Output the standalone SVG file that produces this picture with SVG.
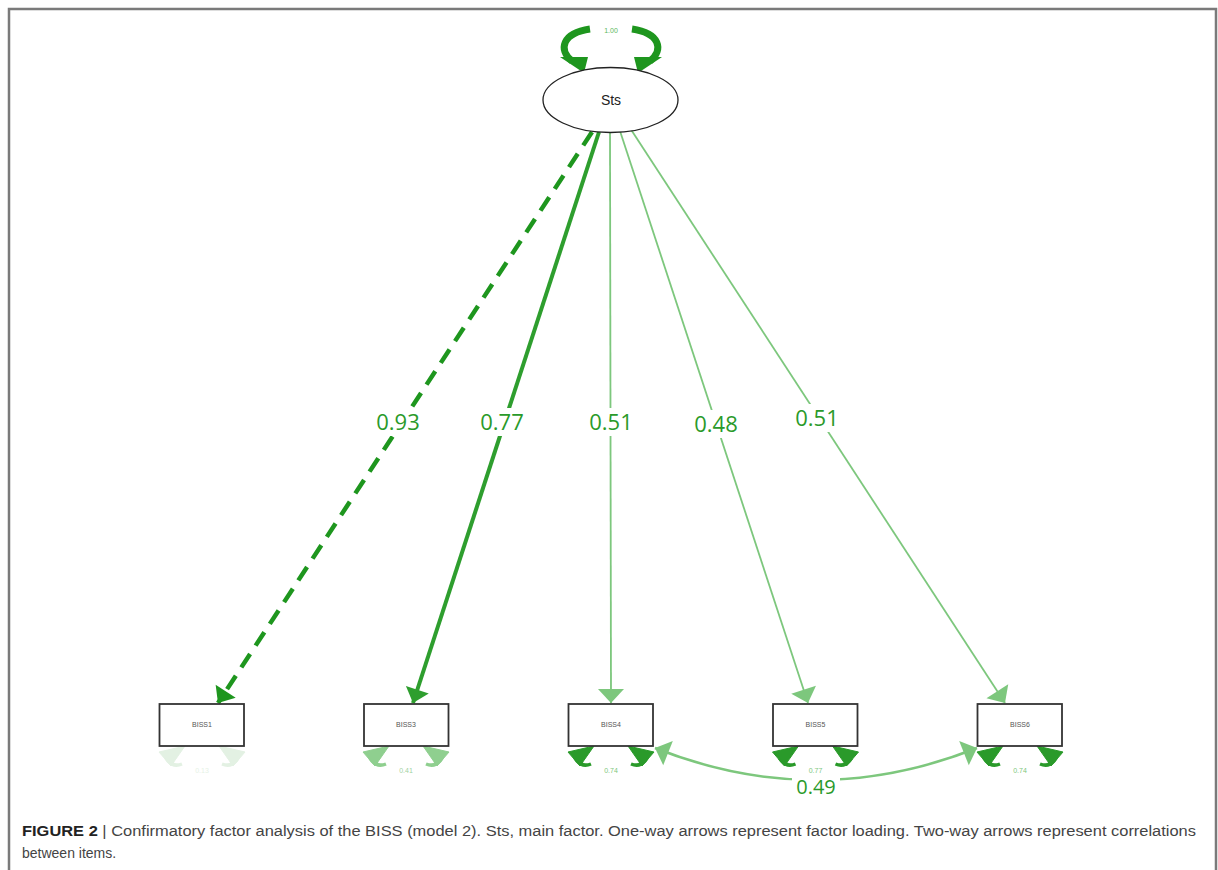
<svg xmlns="http://www.w3.org/2000/svg" width="1218" height="870" viewBox="0 0 1218 870">
<defs>
<style>
.frame{fill:none;stroke:#7a7a7a;stroke-width:2.5}
.box{fill:#fff;stroke:#333;stroke-width:1.8}
.boxt{font-family:"Liberation Sans",Arial,sans-serif;font-size:7px;fill:#555;text-anchor:middle}
.lbl{font-family:"Open Sans","DejaVu Sans",sans-serif;font-size:22px;fill:#2a9a2a;text-anchor:middle}
.bg{fill:#fff}
.small{font-family:"Liberation Sans",Arial,sans-serif;font-size:7px;text-anchor:middle}
.cap{font-family:"Liberation Sans",Arial,sans-serif;font-size:14px;fill:#444}
</style>
<marker id="ahD" viewBox="-15 -14 16 28" refX="0" refY="0" markerWidth="16" markerHeight="28" markerUnits="userSpaceOnUse" orient="auto"><path d="M0,0 L-14,-12 L-14,12 Z" fill="#1e961e"/></marker>
<marker id="ahM" viewBox="-15 -14 16 28" refX="0" refY="0" markerWidth="16" markerHeight="28" markerUnits="userSpaceOnUse" orient="auto"><path d="M0,0 L-14,-12 L-14,12 Z" fill="#2e9e2e"/></marker>
<marker id="ahL" viewBox="-15 -14 16 28" refX="0" refY="0" markerWidth="16" markerHeight="28" markerUnits="userSpaceOnUse" orient="auto-start-reverse"><path d="M0,0 L-14,-13 L-14,13 Z" fill="#7dc77d"/></marker>
<g id="res">
<path d="M-36,758 Q-30,768 -20,764" fill="none" stroke-width="3.5"/>
<path d="M-17,746 L-43,752 L-31,766 Z"/>
<path d="M36,758 Q30,768 20,764" fill="none" stroke-width="3.5"/>
<path d="M17,746 L43,752 L31,766 Z"/>
</g>
</defs>
<rect width="1218" height="870" fill="#fff"/>
<path class="frame" d="M9,870 V9 H1216 V870"/>

<g id="connectors">
<line x1="592" y1="132" x2="218" y2="703" stroke="#1e961e" stroke-width="4.5" stroke-dasharray="16,10" marker-end="url(#ahD)"/>
<line x1="599" y1="132" x2="413" y2="703" stroke="#2e9e2e" stroke-width="4" marker-end="url(#ahM)"/>
<line x1="610" y1="132" x2="611" y2="703" stroke="#7dc77d" stroke-width="1.8" marker-end="url(#ahL)"/>
<line x1="620" y1="131" x2="808" y2="703" stroke="#7dc77d" stroke-width="1.8" marker-end="url(#ahL)"/>
<line x1="630" y1="128" x2="1005" y2="703" stroke="#7dc77d" stroke-width="1.8" marker-end="url(#ahL)"/>
<path d="M655,748 Q816,812 977,748" fill="none" stroke="#7dc77d" stroke-width="2.5" marker-start="url(#ahL)" marker-end="url(#ahL)"/>
</g>

<g id="labels">
<rect class="bg" x="372" y="408" width="52" height="28"/>
<text class="lbl" x="398" y="430">0.93</text>
<rect class="bg" x="476" y="408" width="52" height="28"/>
<text class="lbl" x="502" y="430">0.77</text>
<rect class="bg" x="585" y="408" width="52" height="28"/>
<text class="lbl" x="611" y="430">0.51</text>
<rect class="bg" x="690" y="410" width="52" height="28"/>
<text class="lbl" x="716" y="432">0.48</text>
<rect class="bg" x="791" y="404" width="52" height="28"/>
<text class="lbl" x="817" y="426">0.51</text>
<rect class="bg" x="792" y="774" width="48" height="24"/>
<text class="lbl" x="816" y="794" style="font-size:20px">0.49</text>
</g>

<g id="Sts">
<path d="M590,29 C562,33 558,50 572,61" fill="none" stroke="#1e961e" stroke-width="7"/>
<path d="M560,57 L588,57 L584,73 Z" fill="#1e961e"/>
<path d="M632,29 C660,33 664,50 650,61" fill="none" stroke="#1e961e" stroke-width="7"/>
<path d="M662,57 L634,57 L638,73 Z" fill="#1e961e"/>
<text class="small" x="611" y="33" fill="#5cb85c">1.00</text>
<ellipse cx="610.5" cy="100" rx="67.5" ry="32.5" fill="#fff" stroke="#222" stroke-width="1.3"/>
<text x="611" y="105" font-family="Liberation Sans, Arial, sans-serif" font-size="14" fill="#222" text-anchor="middle">Sts</text>
</g>

<g id="BISS1">
<use href="#res" x="202" fill="#e3f1e3" stroke="#e3f1e3"/>
<rect class="box" x="159.5" y="704" width="84.5" height="42"/>
<text class="boxt" x="202" y="727">BISS1</text>
<text class="small" x="202" y="773" fill="#e6f2e6">0.13</text>
</g>

<g id="BISS3">
<use href="#res" x="406" fill="#8fcf8f" stroke="#8fcf8f"/>
<rect class="box" x="364" y="704" width="84.5" height="42"/>
<text class="boxt" x="406" y="727">BISS3</text>
<text class="small" x="406" y="773" fill="#9fd29f">0.41</text>
</g>

<g id="BISS4">
<use href="#res" x="611" fill="#2a9a2a" stroke="#2a9a2a"/>
<rect class="box" x="568.5" y="704" width="84.5" height="42"/>
<text class="boxt" x="611" y="727">BISS4</text>
<text class="small" x="611" y="773" fill="#7dc77d">0.74</text>
</g>

<g id="BISS5">
<use href="#res" x="815.5" fill="#2a9a2a" stroke="#2a9a2a"/>
<rect class="box" x="773" y="704" width="84.5" height="42"/>
<text class="boxt" x="815.5" y="727">BISS5</text>
<text class="small" x="815.5" y="773" fill="#7dc77d">0.77</text>
</g>

<g id="BISS6">
<use href="#res" x="1020" fill="#2a9a2a" stroke="#2a9a2a"/>
<rect class="box" x="977.5" y="704" width="84.5" height="42"/>
<text class="boxt" x="1020" y="727">BISS6</text>
<text class="small" x="1020" y="773" fill="#7dc77d">0.74</text>
</g>

<g id="caption">
<text class="cap" x="22" y="836" textLength="1174" lengthAdjust="spacingAndGlyphs"><tspan font-weight="bold" fill="#222">FIGURE 2</tspan> | Confirmatory factor analysis of the BISS (model 2). Sts, main factor. One-way arrows represent factor loading. Two-way arrows represent correlations</text>
<text class="cap" x="22" y="858">between items.</text>
</g>
</svg>
